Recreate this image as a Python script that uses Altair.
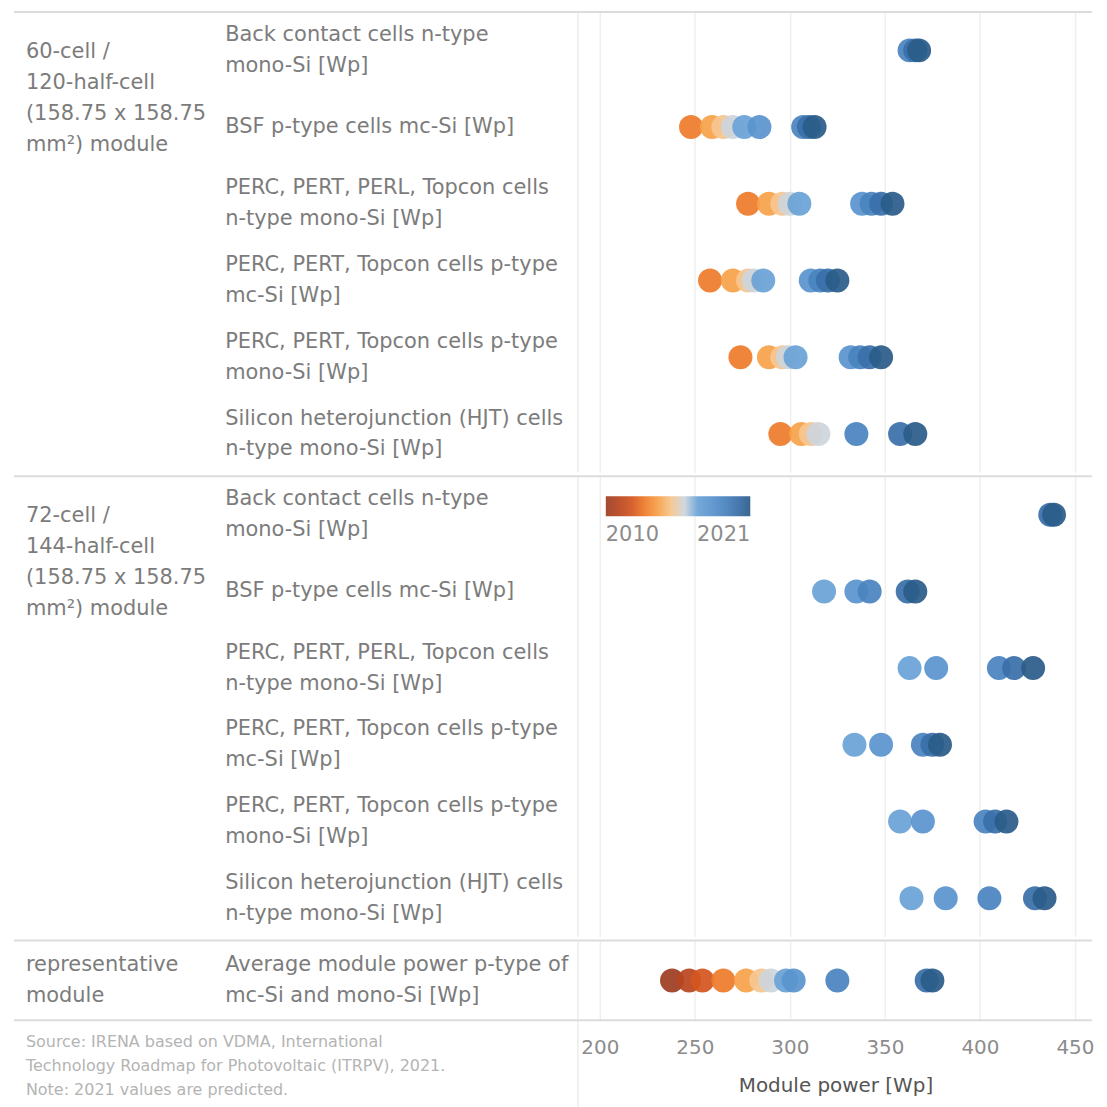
import altair as alt
import pandas as pd

FONT = "DejaVu Sans"

# ---------------- data ----------------
group_labels = [
    "60-cell /\n120-half-cell\n(158.75 x 158.75\nmm²) module",
    "72-cell /\n144-half-cell\n(158.75 x 158.75\nmm²) module",
    "representative\nmodule",
]

cell_types = [
    "Back contact cells n-type\nmono-Si [Wp]",
    "BSF p-type cells mc-Si [Wp]",
    "PERC, PERT, PERL, Topcon cells\nn-type mono-Si [Wp]",
    "PERC, PERT, Topcon cells p-type\nmc-Si [Wp]",
    "PERC, PERT, Topcon cells p-type\nmono-Si [Wp]",
    "Silicon heterojunction (HJT) cells\nn-type mono-Si [Wp]",
]
rep_types = ["Average module power p-type of\nmc-Si and mono-Si [Wp]"]

years_60 = [
    [2019, 2020, 2021],
    [2013, 2014, 2015, 2016, 2017, 2018, 2019, 2020, 2021],
    [2013, 2014, 2015, 2016, 2017, 2018, 2019, 2020, 2021],
    [2013, 2014, 2015, 2016, 2017, 2018, 2019, 2020, 2021],
    [2013, 2014, 2015, 2016, 2017, 2018, 2019, 2020, 2021],
    [2013, 2014, 2015, 2016, 2019, 2020, 2021],
]
power_60 = [
    [363, 366, 368],
    [248, 259, 265, 270, 276, 284, 307, 310, 313],
    [278, 289, 296, 300, 305, 338, 343, 348, 354],
    [258, 270, 278, 281, 286, 311, 316, 320, 325],
    [274, 289, 296, 299, 303, 332, 337, 342, 348],
    [295, 306, 311, 315, 335, 358, 366],
]

years_72 = [
    [2020, 2021],
    [2017, 2018, 2019, 2020, 2021],
    [2017, 2018, 2019, 2020, 2021],
    [2017, 2018, 2019, 2020, 2021],
    [2017, 2018, 2019, 2020, 2021],
    [2017, 2018, 2019, 2020, 2021],
]
power_72 = [
    [437, 439],
    [318, 335, 342, 362, 366],
    [363, 377, 410, 418, 428],
    [334, 348, 370, 375, 379],
    [358, 370, 403, 408, 414],
    [364, 382, 405, 429, 434],
]

years_rep = [[2010, 2011, 2012, 2013, 2014, 2015, 2016, 2017, 2018, 2019, 2020, 2021]]
power_rep = [[238, 247, 254, 265, 277, 285, 290, 298, 302, 325, 372, 375]]

palette_years = list(range(2010, 2022))
palette_colors = ["#9e3d22", "#b8461f", "#d4561f", "#ee7c2b", "#f7a24b", "#f5c690",
                  "#cdd5dc", "#6aa2d6", "#5a94cd", "#4a84c0", "#3a70aa", "#2b5c8a"]
legend_years = [2010, 2021]
x_ticks = [200, 250, 300, 350, 400, 450]
x_domain = [189, 459]
x_title = "Module power [Wp]"
source_note = ("Source: IRENA based on VDMA, International\n"
               "Technology Roadmap for Photovoltaic (ITRPV), 2021.\n"
               "Note: 2021 values are predicted.")

# ---------------- layout constants ----------------
W = 515
STEP = 77
RULE_X = -567
SUB_X = -355
GROUP_X = -555
LINE_H = 31
LABEL_SIZE = 21
LINE_COLOR = "#dcdcdc"
FRAME_COLOR = "#ececec"
TEXT_COLOR = "#7c7c7c"


def label_layers(subs, y):
    recs = []
    for s in subs:
        lines = s.split("\n")
        n = len(lines)
        for i, ln in enumerate(lines):
            recs.append({"sub": s, "line": ln, "dy": (i - (n - 1) / 2) * LINE_H})
    df = pd.DataFrame(recs)
    layers = []
    for dy in sorted(df["dy"].unique()):
        d = df[df["dy"] == dy]
        layers.append(
            alt.Chart(d).mark_text(
                align="left", baseline="middle", fontSize=LABEL_SIZE, color=TEXT_COLOR,
                font=FONT, dy=float(dy)
            ).encode(x=alt.value(SUB_X), y=y, text="line:N")
        )
    return layers


def panel(group_label, subs, years, powers, height, group_y, legend=None, bottom=False):
    rows = []
    for s, ys, ps in zip(subs, years, powers):
        for yr, p in zip(ys, ps):
            rows.append({"sub": s, "year": yr, "power": p})
    df = pd.DataFrame(rows)

    if bottom:
        xaxis = alt.Axis(values=x_ticks, grid=True, gridColor="#efefef", gridWidth=1.5,
                         ticks=False, domain=False, title=x_title,
                         labelFontSize=20, labelColor="#8c8c8c", labelPadding=17,
                         labelFont=FONT, titleFont=FONT, titleFontSize=20,
                         titleColor="#555555", titleFontWeight="normal", titlePadding=18)
    else:
        xaxis = alt.Axis(values=x_ticks, grid=True, gridColor="#efefef", gridWidth=1.5,
                         labels=False, ticks=False, domain=False, title=None)

    x = alt.X("power:Q", scale=alt.Scale(domain=x_domain, nice=False, zero=False), axis=xaxis)
    y = alt.Y("sub:N", sort=subs, axis=None)
    if legend is None:
        color = alt.Color("year:Q", scale=alt.Scale(domain=palette_years, range=palette_colors),
                          legend=None)
    else:
        color = alt.Color("year:Q", scale=alt.Scale(domain=palette_years, range=palette_colors),
                          legend=legend)

    pts = alt.Chart(df).mark_circle(size=580, opacity=0.93).encode(x=x, y=y, color=color)

    grp = alt.Chart(pd.DataFrame({"g": [group_label]})).mark_text(
        align="left", baseline="middle", lineBreak="\n", fontSize=LABEL_SIZE, lineHeight=LINE_H,
        color=TEXT_COLOR, font=FONT
    ).encode(x=alt.value(GROUP_X), y=alt.value(group_y), text="g:N")

    one = pd.DataFrame({"r": [0]})
    top_rule = alt.Chart(one).mark_rule(color=LINE_COLOR, strokeWidth=2).encode(
        x=alt.value(RULE_X), x2=alt.value(W), y=alt.value(0))
    frame_bottom = height + 90 if bottom else height
    left_rule = alt.Chart(one).mark_rule(color=FRAME_COLOR, strokeWidth=1.5).encode(
        x=alt.value(-1), y=alt.value(1), y2=alt.value(frame_bottom))

    layers = [top_rule, left_rule, pts] + label_layers(subs, y) + [grp]
    if bottom:
        bot_rule = alt.Chart(one).mark_rule(color=LINE_COLOR, strokeWidth=2).encode(
            x=alt.value(RULE_X), x2=alt.value(W), y=alt.value(height))
        note = alt.Chart(pd.DataFrame({"n": [source_note]})).mark_text(
            align="left", baseline="middle", lineBreak="\n", fontSize=16, lineHeight=24,
            color="#b4b4b4", font=FONT
        ).encode(x=alt.value(GROUP_X), y=alt.value(height + 22), text="n:N")
        layers += [bot_rule, note]

    return alt.layer(*layers).properties(width=W, height=height)


legend_72 = alt.Legend(orient="none", legendX=27, legendY=20, direction="horizontal",
                       gradientLength=145, gradientThickness=20, title=None,
                       values=legend_years, format="d", labelFontSize=21,
                       labelColor="#8c8c8c", labelFont=FONT, labelOffset=8,
                       gradientStrokeWidth=0)

p1 = panel(group_labels[0], cell_types, years_60, power_60, STEP * 6, 40)
p2 = panel(group_labels[1], cell_types, years_72, power_72, STEP * 6, 40, legend=legend_72)
p3 = panel(group_labels[2], rep_types, years_rep, power_rep, 80, 40 - LINE_H / 2, bottom=True)

chart = alt.vconcat(p1, p2, p3, spacing=0).resolve_scale(
    y="independent"
).resolve_legend(
    color="independent"
).properties(
    padding={"left": 4, "top": 0, "right": 4, "bottom": 2}
).configure(
    font=FONT
).configure_view(
    stroke="transparent"
)

chart.save("out.html", embed_options={"renderer": "svg", "actions": False})
